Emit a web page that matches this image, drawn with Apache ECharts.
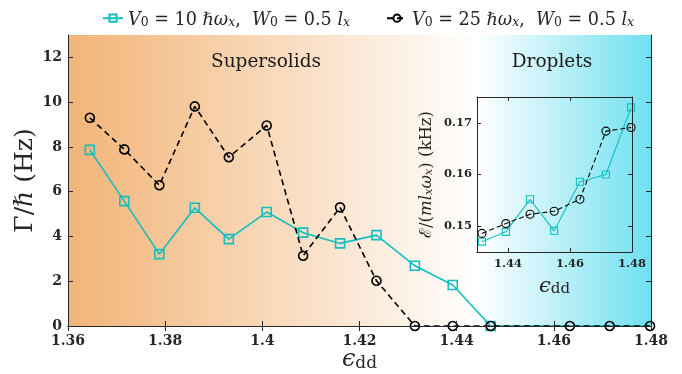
<!DOCTYPE html>
<html><head><meta charset="utf-8">
<script src="https://cdn.jsdelivr.net/npm/echarts@6/dist/echarts.min.js"></script>
<style>html,body{margin:0;padding:0;background:#fff}#c{width:682px;height:374px}</style>
</head><body><div id="c"></div>
<script>
// ---- data ----
const epsMain   = [1.3645,1.3716,1.3788,1.3861,1.3931,1.4009,1.4084,1.4160,1.4235,1.4314,1.4392,1.4470,1.4633,1.4715,1.4798];
const gammaV10  = [7.87,5.58,3.21,5.28,3.88,5.09,4.17,3.69,4.06,2.69,1.83,0,0,0,0];
const gammaV25  = [9.30,7.89,6.29,9.81,7.54,8.96,3.14,5.30,2.02,0,0,0,0,0,0];
const epsInset  = [1.4316,1.4393,1.4471,1.4549,1.4632,1.4716,1.4797];
const energyV10 = [0.1470,0.1489,0.1552,0.1491,0.1586,0.1600,0.1730];
const energyV25 = [0.1486,0.1505,0.1523,0.1529,0.1552,0.1684,0.1691];
const mainXTicks  = [1.36,1.38,1.40,1.42,1.44,1.46,1.48];
const mainYTicks  = [0,2,4,6,8,10,12];
const insetXTicks = [1.44,1.46,1.48];
const insetYTicks = [0.15,0.16,0.17];
const nameV10 = 'V10';
const nameV25 = 'V25';

// ---- style ----
const F = 'DejaVu Serif';
const AX = '#262626';
const CYAN = '#12BFC0';
const BLACK = '#000000';
const fmt = v => String(+(+v).toFixed(3));

function richSet(base, sub){
  return {
    n:{fontFamily:F,fontSize:base,lineHeight:base+4,verticalAlign:'bottom',color:AX},
    i:{fontFamily:F,fontStyle:'italic',fontSize:base,lineHeight:base+4,verticalAlign:'bottom',color:AX},
    s:{fontFamily:F,fontSize:sub,lineHeight:Math.round(sub*0.7),verticalAlign:'bottom',color:AX},
    si:{fontFamily:F,fontStyle:'italic',fontSize:sub,lineHeight:Math.round(sub*0.7),verticalAlign:'bottom',color:AX}
  };
}

const chart = echarts.init(document.getElementById('c'));
const mainLabel = {fontFamily:F,fontWeight:'bold',fontSize:14,color:AX};
const insetLabel = {fontFamily:F,fontWeight:'bold',fontSize:11.5,color:AX};

function tickAxis(extra){
  return Object.assign({
    type:'value', axisLine:{show:true,lineStyle:{color:AX,width:1}},
    axisTick:{show:true,inside:true,length:5,lineStyle:{color:AX,width:1}},
    axisLabel:{show:false}, splitLine:{show:false}, z:5, nameMoveOverlap:false
  }, extra);
}

const legendText = {
  [nameV10]: '{i|V}{s|0}{n| = 10 ℏ}{i|ω}{si|x}{n|,  }{i|W}{s|0}{n| = 0.5 }{i|l}{si|x}',
  [nameV25]: '{i|V}{s|0}{n| = 25 ℏ}{i|ω}{si|x}{n|,  }{i|W}{s|0}{n| = 0.5 }{i|l}{si|x}'
};

chart.setOption({
  animation:false,
  backgroundColor:'#fff',
  legend:{
    data:[nameV10,nameV25], left:97, top:6, itemGap:36, itemWidth:20, itemHeight:9,
    formatter: n => legendText[n],
    textStyle:{rich:richSet(17.6,12.4)}
  },
  grid:[
    {left:68,right:31,top:35,bottom:48,show:true,borderWidth:0,outerBoundsMode:'none',containLabel:false,
     backgroundColor:new echarts.graphic.LinearGradient(0,0,1,0,[
       {offset:0,color:'#F2B477'},{offset:0.703,color:'#FFFFFF'},{offset:1,color:'#6FE0F0'}])},
    {left:477,top:97,width:155,height:155,outerBoundsMode:'none',containLabel:false}
  ],
  xAxis:[
    tickAxis({gridIndex:0,position:'bottom',min:1.36,max:1.48,interval:0.02,
      axisLabel:Object.assign({show:true,margin:8,formatter:fmt},mainLabel),
      name:'{i|ϵ}{s|dd}',nameLocation:'middle',nameGap:18,
      nameTextStyle:{rich:richSet(24,17)}}),
    tickAxis({gridIndex:0,position:'top',min:1.36,max:1.48,interval:0.02}),
    tickAxis({gridIndex:1,position:'bottom',min:1.43,max:1.48,
      axisTick:{show:true,inside:true,length:4,customValues:insetXTicks,lineStyle:{color:AX}},
      axisLabel:Object.assign({show:true,margin:6,customValues:insetXTicks,formatter:fmt},insetLabel),
      name:'{i|ϵ}{s|dd}',nameLocation:'middle',nameGap:20,
      nameTextStyle:{rich:richSet(21,15)}}),
    tickAxis({gridIndex:1,position:'top',min:1.43,max:1.48,
      axisTick:{show:true,inside:true,length:4,customValues:insetXTicks,lineStyle:{color:AX}}})
  ],
  yAxis:[
    tickAxis({gridIndex:0,position:'left',min:0,max:13,
      axisTick:{show:true,inside:true,length:5,customValues:mainYTicks,lineStyle:{color:AX}},
      axisLabel:Object.assign({show:true,margin:6,customValues:mainYTicks,formatter:fmt},mainLabel),
      name:'{n|Γ/}{i|ℏ}{n| (Hz)}',nameLocation:'middle',nameGap:30,nameRotate:90,
      nameTextStyle:{rich:richSet(25,17)}}),
    tickAxis({gridIndex:0,position:'right',min:0,max:13,
      axisTick:{show:true,inside:true,length:5,customValues:mainYTicks,lineStyle:{color:AX}}}),
    tickAxis({gridIndex:1,position:'left',min:0.145,max:0.175,
      axisTick:{show:true,inside:true,length:4,customValues:insetYTicks,lineStyle:{color:AX}},
      axisLabel:Object.assign({show:true,margin:5,customValues:insetYTicks,formatter:fmt},insetLabel),
      name:'{n|ℰ/(}{i|ml}{si|x}{i|ω}{si|x}{n|) (kHz)}',nameLocation:'middle',nameGap:42,nameRotate:90,
      nameTextStyle:{rich:richSet(16.5,11.5)}}),
    tickAxis({gridIndex:1,position:'right',min:0.145,max:0.175,
      axisTick:{show:true,inside:true,length:4,customValues:insetYTicks,lineStyle:{color:AX}}})
  ],
  graphic:[
    {type:'text',x:266,y:62,z:10,style:{text:'Supersolids',fontFamily:F,fontSize:18.5,fill:'#1a1a1a',align:'center',verticalAlign:'middle'}},
    {type:'text',x:552,y:62,z:10,style:{text:'Droplets',fontFamily:F,fontSize:18.5,fill:'#1a1a1a',align:'center',verticalAlign:'middle'}}
  ],
  series:[
    {name:nameV10,type:'line',xAxisIndex:0,yAxisIndex:0,z:3,
     data:epsMain.map((x,i)=>({value:[x,gammaV10[i]],symbol:i>11?'none':'rect'})),
     symbol:'rect',symbolSize:9,showAllSymbol:true,
     lineStyle:{color:CYAN,width:1.6},
     itemStyle:{color:'rgba(255,255,255,0)',borderColor:CYAN,borderWidth:1.6}},
    {name:nameV25,type:'line',xAxisIndex:0,yAxisIndex:0,z:4,
     data:epsMain.map((x,i)=>[x,gammaV25[i]]),
     symbol:'circle',symbolSize:9,showAllSymbol:true,
     lineStyle:{color:BLACK,width:1.6,type:[6,4]},
     itemStyle:{color:'rgba(255,255,255,0)',borderColor:BLACK,borderWidth:1.6}},
    {name:'insetV10',type:'line',xAxisIndex:2,yAxisIndex:2,z:3,
     data:epsInset.map((x,i)=>[x,energyV10[i]]),
     symbol:'rect',symbolSize:7,showAllSymbol:true,
     lineStyle:{color:CYAN,width:1.1},
     itemStyle:{color:'rgba(255,255,255,0)',borderColor:CYAN,borderWidth:1.1}},
    {name:'insetV25',type:'line',xAxisIndex:2,yAxisIndex:2,z:4,
     data:epsInset.map((x,i)=>[x,energyV25[i]]),
     symbol:'circle',symbolSize:8,showAllSymbol:true,
     lineStyle:{color:BLACK,width:1.1,type:[5,3]},
     itemStyle:{color:'rgba(255,255,255,0)',borderColor:BLACK,borderWidth:1.1}}
  ]
});
</script></body></html>
